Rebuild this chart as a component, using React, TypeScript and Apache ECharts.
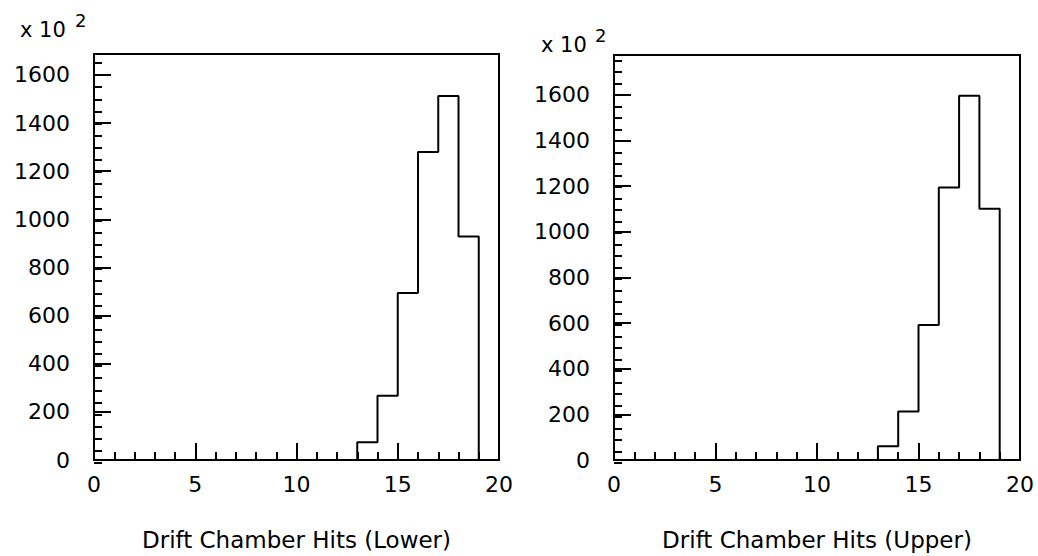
import React, { useEffect, useRef } from "react";
import * as echarts from "echarts";

const binStarts = [13, 14, 15, 16, 17, 18];
const lowerCounts = [74, 267, 694, 1280, 1513, 929];
const upperCounts = [60, 212, 591, 1194, 1596, 1100];
const xMin = 0;
const xMax = 20;
const lowerYMax = 1687;
const upperYMax = 1774;
const lowerTitle = "Drift Chamber Hits (Lower)";
const upperTitle = "Drift Chamber Hits (Upper)";

const FONT = "DejaVu Sans";

function stepPoints(starts: number[], counts: number[]): number[][] {
  const pts: number[][] = [];
  pts.push([starts[0], 0]);
  starts.forEach((s, i) => {
    pts.push([s, counts[i]]);
    pts.push([s + 1, counts[i]]);
  });
  pts.push([starts[starts.length - 1] + 1, 0]);
  return pts;
}

export default function App() {
  const ref = useRef<HTMLDivElement>(null);
  useEffect(() => {
    document.body.style.margin = "0";
    const chart = echarts.init(ref.current!, null, { renderer: "svg" });
    const grids = [
      { left: 94, top: 54, width: 405, height: 409 },
      { left: 94, top: 54, width: 405, height: 409 },
      { left: 614, top: 55, width: 406, height: 408 },
      { left: 614, top: 55, width: 406, height: 408 },
    ].map((g, i) => ({
      ...g,
      show: i % 2 === 0,
      borderColor: "#000",
      borderWidth: 2,
      backgroundColor: "transparent",
    }));

    const mainX = (gridIndex: number, name: string) => ({
      type: "value",
      gridIndex,
      min: xMin,
      max: xMax,
      interval: 5,
      name,
      nameLocation: "middle",
      nameGap: 68,
      nameTextStyle: { fontFamily: FONT, fontSize: 23, color: "#000" },
      axisLine: { show: true, lineStyle: { color: "#000", width: 2 } },
      axisTick: { show: true, inside: true, length: 17, lineStyle: { color: "#000", width: 2 } },
      minorTick: { show: true, splitNumber: 5, length: 8, lineStyle: { color: "#000", width: 2 } },
      axisLabel: { fontFamily: FONT, fontSize: 22, color: "#000", margin: 13 },
      splitLine: { show: false },
      minorSplitLine: { show: false },
    });
    const hiddenX = (gridIndex: number) => ({
      type: "value",
      gridIndex,
      min: xMin,
      max: xMax,
      show: false,
    });
    const mainY = (gridIndex: number, max: number) => ({
      type: "value",
      gridIndex,
      min: 0,
      max,
      interval: 200,
      axisLine: { show: true, lineStyle: { color: "#000", width: 2 } },
      axisTick: { show: true, inside: true, length: 17, lineStyle: { color: "#000", width: 2 } },
      axisLabel: {
        fontFamily: FONT,
        fontSize: 22,
        color: "#000",
        margin: 24,
        showMaxLabel: false,
        formatter: (v: number) => String(v),
      },
      splitLine: { show: false },
    });
    const minorY = (gridIndex: number, max: number) => ({
      type: "value",
      gridIndex,
      min: 0,
      max,
      interval: 50,
      axisLine: { show: false },
      axisTick: { show: true, inside: true, length: 8, lineStyle: { color: "#000", width: 2 } },
      axisLabel: { show: false },
      splitLine: { show: false },
    });

    chart.setOption({
      animation: false,
      backgroundColor: "#fff",
      textStyle: { fontFamily: FONT },
      grid: grids,
      xAxis: [mainX(0, lowerTitle), hiddenX(1), mainX(2, upperTitle), hiddenX(3)],
      yAxis: [mainY(0, lowerYMax), minorY(1, lowerYMax), mainY(2, upperYMax), minorY(3, upperYMax)],
      series: [
        {
          type: "line",
          xAxisIndex: 0,
          yAxisIndex: 0,
          data: stepPoints(binStarts, lowerCounts),
          showSymbol: false,
          symbol: "none",
          lineStyle: { color: "#000", width: 2 },
        },
        {
          type: "line",
          xAxisIndex: 2,
          yAxisIndex: 2,
          data: stepPoints(binStarts, upperCounts),
          showSymbol: false,
          symbol: "none",
          lineStyle: { color: "#000", width: 2 },
        },
      ],
      graphic: [
        {
          type: "text",
          x: 20,
          y: 30,
          style: { text: "x 10", fontFamily: FONT, fontSize: 21, fill: "#000", align: "left", verticalAlign: "middle" },
        },
        {
          type: "text",
          x: 75,
          y: 20,
          style: { text: "2", fontFamily: FONT, fontSize: 18, fill: "#000", align: "left", verticalAlign: "middle" },
        },
        {
          type: "text",
          x: 541,
          y: 45,
          style: { text: "x 10", fontFamily: FONT, fontSize: 21, fill: "#000", align: "left", verticalAlign: "middle" },
        },
        {
          type: "text",
          x: 595,
          y: 35,
          style: { text: "2", fontFamily: FONT, fontSize: 18, fill: "#000", align: "left", verticalAlign: "middle" },
        },
      ],
    });
    return () => chart.dispose();
  }, []);
  return <div ref={ref} style={{ width: 1038, height: 556 }} />;
}
